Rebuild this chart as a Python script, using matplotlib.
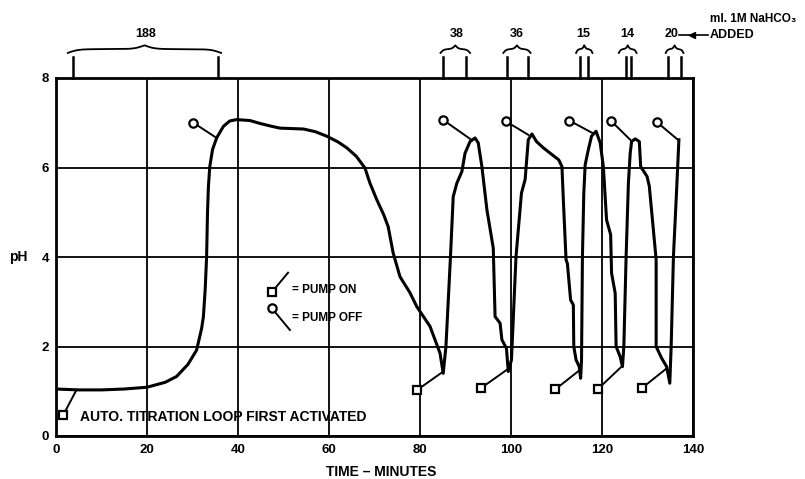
import matplotlib.pyplot as plt
import numpy as np

plt.rcParams['font.family'] = ['Liberation Sans', 'DejaVu Sans']
plt.rcParams['font.weight'] = 'bold'

# pH trace (time in minutes, pH)
time_min = [0, 5, 10, 15, 20, 24, 26.5, 29, 30.9, 32.0, 32.4, 32.8, 33.1, 33.3, 33.5, 33.8,
            34.4, 35.3, 36.8, 38.2, 39.7, 42.6, 45, 47, 49.2, 54.4, 57, 59.5, 62, 63.9, 66,
            67.9, 69, 70.5, 72, 73.0, 74.1, 75.6, 77.8, 79.3, 82.2, 84.4, 85.1,
            85.7, 86.7, 87.3, 88.1, 89.2, 89.9, 91.0, 92.1, 92.8, 93.6, 94.7, 96.1, 96.5,
            97.6, 98.0, 99.0, 99.4,
            100.1, 101.1, 102.3, 103.1, 103.8, 104.6, 105.6, 107.1, 108.6, 110.0, 110.5,
            111.2, 111.5, 112.1, 112.4, 113.1, 113.7, 113.8, 114.3, 115.0, 115.3,
            115.5, 115.7, 116.0, 116.3, 117.0, 117.7, 118.7, 119.6, 120.3, 121.0, 121.9,
            122.1, 122.9, 123.1, 124.0, 124.5,
            124.8, 125.3, 125.8, 126.2, 126.5, 127.3, 128.2, 128.5, 129.9, 130.4, 131.9,
            131.9, 133.1, 134.2, 134.9,
            135.2, 135.7, 136.4, 136.9]
ph = [1.05, 1.03, 1.03, 1.05, 1.09, 1.2, 1.33, 1.6, 1.92, 2.4, 2.67, 3.3, 4.01, 5.0, 5.58, 6.02,
      6.4, 6.66, 6.92, 7.04, 7.07, 7.05, 6.98, 6.93, 6.88, 6.86, 6.8, 6.70, 6.57, 6.44, 6.25,
      5.99, 5.65, 5.28, 4.95, 4.68, 4.09, 3.56, 3.2, 2.89, 2.45, 1.85, 1.40,
      2.0, 4.01, 5.35, 5.65, 5.91, 6.32, 6.58, 6.66, 6.55, 6.02, 5.06, 4.2, 2.67,
      2.52, 2.15, 1.96, 1.44,
      1.70, 4.01, 5.43, 5.73, 6.62, 6.75, 6.58, 6.44, 6.32, 6.21, 6.17,
      6.02, 5.28, 3.94, 3.85, 3.04, 2.93, 2.0, 1.70, 1.55, 1.29,
      1.70, 4.01, 5.43, 6.06, 6.40, 6.70, 6.81, 6.55, 6.02, 4.83, 4.50,
      3.64, 3.19, 2.0, 1.77, 1.55,
      2.0, 4.01, 5.65, 6.32, 6.58, 6.64, 6.58, 6.02, 5.80, 5.58, 3.94,
      2.0, 1.74, 1.55, 1.18,
      2.0, 4.01, 5.5, 6.62]

# pump switching markers and the point on the trace they point at
on_t = [1.6, 79.4, 93.4, 109.7, 119.1, 128.9]
on_ph = [0.47, 1.03, 1.07, 1.04, 1.05, 1.08]
on_hit_t = [4.5, 85.1, 99.1, 115.2, 124.3, 134.2]
on_hit_ph = [1.03, 1.44, 1.48, 1.48, 1.55, 1.51]

off_t = [30.2, 85.0, 98.9, 112.8, 121.9, 132.0]
off_ph = [7.0, 7.07, 7.03, 7.05, 7.05, 7.02]
off_hit_t = [35.3, 91.0, 103.8, 118.1, 126.2, 136.8]
off_hit_ph = [6.66, 6.64, 6.73, 6.76, 6.62, 6.61]

# NaHCO3 additions: amount, start/end of addition, brace extent, label position
added_ml = ['188', '38', '36', '15', '14', '20']
add_start = [3.7, 85.1, 99.2, 115.2, 125.2, 134.6]
add_end = [35.6, 90.1, 103.7, 117.0, 126.3, 137.3]
brace_from = [2.6, 84.5, 98.3, 114.3, 123.7, 134.0]
brace_to = [36.3, 91.0, 104.3, 117.9, 127.6, 137.9]
label_t = [19.6, 88.1, 101.2, 115.9, 125.6, 135.3]

x_ticks = list(range(0, 141, 20))
y_ticks = list(range(0, 9, 2))


def draw_brace(ax, x0, x1, y0, height, beta):
    """Curly brace opening downwards between x0 and x1
    """
    u = np.linspace(0, 0.5, 101)
    half = 1 / (1 + np.exp(-beta * (u - u[0]))) + 1 / (1 + np.exp(-beta * (u - u[-1])))
    ys = np.concatenate([half, half[-2::-1]])
    ys = (ys - ys.min()) / (ys.max() - ys.min())
    xs = np.linspace(x0, x1, len(ys))
    ax.plot(xs, y0 + height * ys, color='black', lw=1.3, clip_on=False)


fig = plt.figure(figsize=(8.05, 4.79), dpi=100)
ax = fig.add_axes([56 / 805, 1 - 436 / 479, (693 - 56) / 805, (436 - 78) / 479])
ax.set_xlim(0, 140)
ax.set_ylim(0, 8)
ax.set_xticks(x_ticks)
ax.set_yticks(y_ticks)
ax.tick_params(length=0, labelsize=9.5)
ax.tick_params(axis='x', pad=6)
ax.tick_params(axis='y', pad=5)
ax.grid(True, color='black', linewidth=1.3)
for spine in ax.spines.values():
    spine.set_linewidth(2)

ax.set_xlabel('TIME \u2013 MINUTES', fontsize=10, fontweight='bold', va='center')
ax.xaxis.set_label_coords(0.51, (436 - 472) / 358)
ax.set_ylabel('pH', rotation=0, fontsize=10, fontweight='bold', ha='center', va='center')
ax.yaxis.set_label_coords(-0.06, 0.5)

# pH trace
ax.plot(time_min, ph, color='black', lw=2.2, solid_joinstyle='round', zorder=3)

# pump on / off markers
for t0, p0, t1, p1 in zip(on_t, on_ph, on_hit_t, on_hit_ph):
    ax.plot([t0, t1], [p0, p1], color='black', lw=1.4, zorder=3)
for t0, p0, t1, p1 in zip(off_t, off_ph, off_hit_t, off_hit_ph):
    ax.plot([t0, t1], [p0, p1], color='black', lw=1.4, zorder=3)
ax.plot(on_t, on_ph, ls='none', marker='s', ms=5.5, mfc='white', mec='black', mew=1.6, zorder=4)
ax.plot(off_t, off_ph, ls='none', marker='o', ms=6, mfc='white', mec='black', mew=1.6, zorder=4)

# key
ax.plot([47.4, 51.0], [3.21, 3.65], color='black', lw=1.4)
ax.plot([47.4], [3.21], marker='s', ms=5.5, mfc='white', mec='black', mew=1.6)
ax.plot([47.4, 51.4], [2.86, 2.37], color='black', lw=1.4)
ax.plot([47.4], [2.86], marker='o', ms=6, mfc='white', mec='black', mew=1.6)
ax.text(51.8, 3.27, '= PUMP ON', fontsize=8.5, fontweight='bold', va='center', ha='left')
ax.text(51.8, 2.64, '= PUMP OFF', fontsize=8.5, fontweight='bold', va='center', ha='left')
ax.text(5.3, 0.43, 'AUTO. TITRATION LOOP FIRST ACTIVATED', fontsize=10, fontweight='bold',
        va='center', ha='left')

# additions above the plot
for ml, t0, t1, b0, b1, tl in zip(added_ml, add_start, add_end, brace_from, brace_to, label_t):
    ax.plot([t0, t0], [8, 8.48], color='black', lw=1.8, clip_on=False)
    ax.plot([t1, t1], [8, 8.48], color='black', lw=1.8, clip_on=False)
    draw_brace(ax, b0, b1, 8.56, 0.17, 30 if b1 - b0 > 10 else 18)
    ax.text(tl, 8.99, ml, fontsize=9, fontweight='bold', ha='center', va='center')

ax.plot([136.9, 143.2], [8.97, 8.97], color='black', lw=1.2, clip_on=False)
ax.plot([139.8], [8.97], marker='<', ms=4, color='black', clip_on=False)
ax.text(143.7, 8.97, 'ADDED', fontsize=9, fontweight='bold', ha='left', va='center')
ax.text(143.7, 9.31, 'ml. 1M NaHCO\u2083', fontsize=8.5, fontweight='bold',
        ha='left', va='center')

fig.savefig('out.png', dpi=100)
